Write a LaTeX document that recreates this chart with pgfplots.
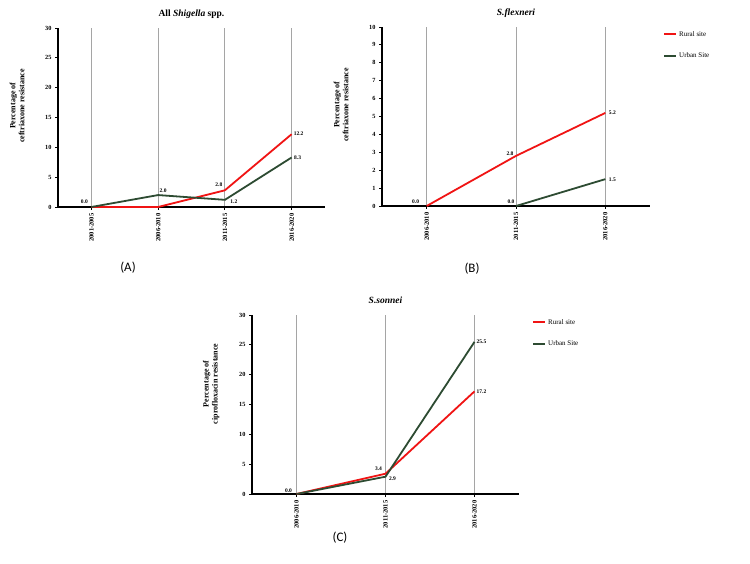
\documentclass[border=0pt]{standalone}
\usepackage{fontspec}
\setmainfont{Liberation Serif}
\newfontfamily\panelfont{Carlito}
\usepackage{pgfplots}
\pgfplotsset{compat=1.18}
\usepackage{pgfplotstable}
\definecolor{rural}{RGB}{240,20,20}
\definecolor{urban}{RGB}{45,75,50}
\definecolor{gridgray}{RGB}{165,165,165}

% Panel A
\pgfplotstableread{
x rural urban
0 0 0
1 0 2.0
2 2.8 1.2
3 12.2 8.3
}\dataA
\pgfplotstableread{
x y lab dx dy
0 0 0.0 -7 5
1 2.0 2.0 5 4
2 2.8 2.8 -6 6
2 1.2 1.2 9 -2
3 12.2 12.2 7 0
3 8.3 8.3 6 0
}\labA
% Panel B
\pgfplotstableread{
x rural
0 0
1 2.8
2 5.2
}\dataBr
\pgfplotstableread{
x urban
1 0
2 1.5
}\dataBu
\pgfplotstableread{
x y lab dx dy
0 0 0.0 -11 4
1 2.8 2.8 -6 2
1 0 0.0 -5 4
2 5.2 5.2 7 0
2 1.5 1.5 7 -1
}\labB
% Panel C
\pgfplotstableread{
x rural urban
0 0 0
1 3.4 2.9
2 17.2 25.5
}\dataC
\pgfplotstableread{
x y lab dx dy
0 0 0.0 -8 3
1 3.4 3.4 -7 5
1 2.9 2.9 7 -2
2 25.5 25.5 7 0
2 17.2 17.2 7 0
}\labC

\pgfplotsset{
  panel/.style={
    scale only axis, width=267pt, height=179pt, anchor=south west,
    axis lines*=left, axis line style={line width=1.6pt, black},
    tick align=outside, major tick length=3pt, tick style={black, line width=0.8pt},
    xmajorgrids, grid style={gridgray, line width=0.9pt},
    xticklabel style={rotate=90, anchor=east, font=\fontsize{6.5}{7}\selectfont\bfseries},
    yticklabel style={font=\fontsize{6.3}{7}\selectfont\bfseries},
    /pgf/number format/assume math mode=true,
    ymin=0, clip=false, xmin=-0.5,
    ylabpos/.initial=0.565,
    every axis y label/.style={at={(axis description cs:-0.153,\pgfkeysvalueof{/pgfplots/ylabpos})}, rotate=90, anchor=center,
       font=\fontsize{8}{9}\selectfont\bfseries, align=center},
    every axis title/.style={at={(axis description cs:0.5,1)}, anchor=base, yshift=11.5pt,
       font=\fontsize{9.5}{11}\selectfont\bfseries},
    legend style={draw=none, fill=none, font=\fontsize{7}{8}\selectfont, at={(axis description cs:1,1)}, anchor=north west, xshift=13pt, yshift=-2pt, row sep=11pt, inner sep=0pt},
    legend cell align=left,
    legend image code/.code={\draw[#1, line width=2pt] (0pt,0pt) -- (12pt,0pt);},
  },
  ser/.style={line width=1.8pt, mark=none},
  lbls/.style={draw=none, mark=none, forget plot, point meta=explicit symbolic,
    nodes near coords,
    visualization depends on={\thisrow{dx}\as\dx},
    visualization depends on={\thisrow{dy}\as\dy},
    nodes near coords style={anchor=center, xshift=\dx pt, yshift=\dy pt, inner sep=0pt, font=\fontsize{5.5}{6}\selectfont\bfseries, text=black}},
}

\begin{document}
\begin{tikzpicture}
\path[use as bounding box, fill=white] (0,0) rectangle (750pt,563pt);

% (A)
\begin{axis}[panel, at={(58pt,356pt)}, width=267pt,
  xmax=3.5, ymax=30, ytick={0,5,...,30},
  xtick={0,1,2,3}, xticklabels={2001-2005,2006-2010,2011-2015,2016-2020},
  title={All \textit{Shigella} spp.},
  ylabel={Percentage of\\ceftriaxone resistance}]
\addplot[ser, rural] table[x=x, y=rural] {\dataA};
\addplot[ser, urban] table[x=x, y=urban] {\dataA};
\addplot[lbls] table[x=x, y=y, meta=lab] {\labA};
\end{axis}

% (B)
\begin{axis}[panel, at={(382pt,357pt)}, width=268pt,
  xmax=2.5, ymax=10, ytick={0,1,...,10},
  xtick={0,1,2}, xticklabels={2006-2010,2011-2015,2016-2020},
  title={\textit{S.flexneri}},
  ylabel={Percentage of\\ceftriaxone resistance}]
\addplot[ser, rural] table[x=x, y=rural] {\dataBr};
\addlegendentry{Rural site}
\addplot[ser, urban] table[x=x, y=urban] {\dataBu};
\addlegendentry{Urban Site}
\addplot[lbls] table[x=x, y=y, meta=lab] {\labB};
\end{axis}

% (C)
\begin{axis}[panel, at={(252pt,69pt)}, width=267pt, ylabpos=0.615,
  xmax=2.5, ymax=30, ytick={0,5,...,30},
  xtick={0,1,2}, xticklabels={2006-2010,2011-2015,2016-2020},
  title={\textit{S.sonnei}},
  ylabel={Percentage of\\ciprofloxacin resistance}]
\addplot[ser, rural] table[x=x, y=rural] {\dataC};
\addlegendentry{Rural site}
\addplot[ser, urban] table[x=x, y=urban] {\dataC};
\addlegendentry{Urban Site}
\addplot[lbls] table[x=x, y=y, meta=lab] {\labC};
\end{axis}

\node[font=\panelfont\fontsize{13}{15}\selectfont] at (128pt,295pt) {(A)};
\node[font=\panelfont\fontsize{13}{15}\selectfont] at (472pt,294pt) {(B)};
\node[font=\panelfont\fontsize{13}{15}\selectfont] at (340pt,25pt) {(C)};
\end{tikzpicture}
\end{document}
